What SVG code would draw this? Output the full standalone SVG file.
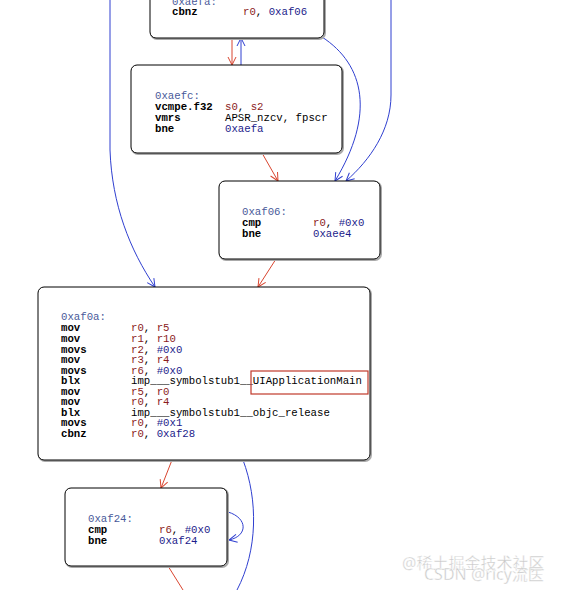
<svg xmlns="http://www.w3.org/2000/svg" width="580" height="590" viewBox="0 0 580 590">
<style>
.box{fill:#fff;stroke:#000;stroke-width:1}
.sh{fill:none;stroke:#aaa;stroke-width:2}
text{font-family:"Liberation Mono","Courier New",monospace;font-size:10.7px}
.lb{fill:#4a5a9a}
.mn{fill:#000;font-weight:bold}
.op{fill:#000}
.r{fill:#8b1c1c}
.n{fill:#1c1c8b}
.er{fill:none;stroke:#d9452f;stroke-width:1}
.eb{fill:none;stroke:#2f3fd0;stroke-width:1}
.wm{font-family:"Noto Sans","Noto Sans CJK SC",sans-serif;fill:#c8c8c8;stroke:#fff;stroke-width:0.4}
</style>
<defs>
<marker id="ar" markerWidth="10" markerHeight="10" refX="9" refY="5" orient="auto" markerUnits="userSpaceOnUse"><path d="M1,1 L9,5 L1,9" fill="none" stroke="#d9452f" stroke-width="1"/></marker>
<marker id="ab" markerWidth="10" markerHeight="10" refX="9" refY="5" orient="auto" markerUnits="userSpaceOnUse"><path d="M1,1 L9,5 L1,9" fill="none" stroke="#2f3fd0" stroke-width="1"/></marker>
</defs>
<rect width="580" height="590" fill="#fff"/>
<g id="connectors">
<path class="er" d="M232,38 L232,65" marker-end="url(#ar)"/>
<path class="eb" d="M241,65 L241,38" marker-end="url(#ab)"/>
<path class="eb" d="M322,37 C365,65 375,115 335,181" marker-end="url(#ab)"/>
<path class="eb" d="M391,0 L391,95 C391,130 370,160 346,181" marker-end="url(#ab)"/>
<path class="eb" d="M110,0 L110,150 C112,205 130,250 155,287" marker-end="url(#ab)"/>
<path class="er" d="M262,153 L278,181" marker-end="url(#ar)"/>
<path class="er" d="M276,259 L258,287" marker-end="url(#ar)"/>
<path class="er" d="M172,460 L161,488" marker-end="url(#ar)"/>
<path class="eb" d="M243,460 C258,500 258,550 237,590"/>
<path class="eb" d="M228,512 C248,518 248,536 229,540" marker-end="url(#ab)"/>
<path class="er" d="M168,566 L183,590"/>
</g>
<g id="n_aefa">
<rect class="sh" x="151" y="-10" width="174" height="49" rx="6"/>
<rect class="box" x="150" y="-10" width="174" height="48" rx="6"/>
<text x="172" y="5" class="lb">0xaefa:</text>
<text x="172" y="15"><tspan class="mn">cbnz</tspan><tspan x="243" class="r">r0</tspan><tspan class="op">, </tspan><tspan class="n">0xaf06</tspan></text>
</g>
<g id="n_aefc">
<rect class="sh" x="132" y="66" width="211" height="88" rx="6"/>
<rect class="box" x="131" y="65" width="211" height="88" rx="6"/>
<text x="155" y="99" class="lb">0xaefc:</text>
<text x="155" y="110"><tspan class="mn">vcmpe.f32</tspan><tspan x="225" class="r">s0</tspan><tspan class="op">, </tspan><tspan class="r">s2</tspan></text>
<text x="155" y="121"><tspan class="mn">vmrs</tspan><tspan x="225" class="op">APSR_nzcv, fpscr</tspan></text>
<text x="155" y="132"><tspan class="mn">bne</tspan><tspan x="225" class="n">0xaefa</tspan></text>
</g>
<g id="n_af06">
<rect class="sh" x="220" y="182" width="161" height="78" rx="6"/>
<rect class="box" x="219" y="181" width="161" height="78" rx="6"/>
<text x="242" y="215" class="lb">0xaf06:</text>
<text x="242" y="226"><tspan class="mn">cmp</tspan><tspan x="313" class="r">r0</tspan><tspan class="op">, </tspan><tspan class="n">#0x0</tspan></text>
<text x="242" y="237"><tspan class="mn">bne</tspan><tspan x="313" class="n">0xaee4</tspan></text>
</g>
<g id="n_af0a">
<rect class="sh" x="39" y="288" width="332" height="173" rx="6"/>
<rect class="box" x="38" y="287" width="332" height="173" rx="6"/>
<text x="61" y="320" class="lb">0xaf0a:</text>
<text x="61" y="331"><tspan class="mn">mov</tspan><tspan x="131" class="r">r0</tspan><tspan class="op">, </tspan><tspan class="r">r5</tspan></text>
<text x="61" y="342"><tspan class="mn">mov</tspan><tspan x="131" class="r">r1</tspan><tspan class="op">, </tspan><tspan class="r">r10</tspan></text>
<text x="61" y="352.5"><tspan class="mn">movs</tspan><tspan x="131" class="r">r2</tspan><tspan class="op">, </tspan><tspan class="n">#0x0</tspan></text>
<text x="61" y="363"><tspan class="mn">mov</tspan><tspan x="131" class="r">r3</tspan><tspan class="op">, </tspan><tspan class="r">r4</tspan></text>
<text x="61" y="373.5"><tspan class="mn">movs</tspan><tspan x="131" class="r">r6</tspan><tspan class="op">, </tspan><tspan class="n">#0x0</tspan></text>
<text x="61" y="384"><tspan class="mn">blx</tspan><tspan x="131" class="op">imp___symbolstub1__UIApplicationMain</tspan></text>
<text x="61" y="394.5"><tspan class="mn">mov</tspan><tspan x="131" class="r">r5</tspan><tspan class="op">, </tspan><tspan class="r">r0</tspan></text>
<text x="61" y="405"><tspan class="mn">mov</tspan><tspan x="131" class="r">r0</tspan><tspan class="op">, </tspan><tspan class="r">r4</tspan></text>
<text x="61" y="415.5"><tspan class="mn">blx</tspan><tspan x="131" class="op">imp___symbolstub1__objc_release</tspan></text>
<text x="61" y="426"><tspan class="mn">movs</tspan><tspan x="131" class="r">r0</tspan><tspan class="op">, </tspan><tspan class="n">#0x1</tspan></text>
<text x="61" y="436.5"><tspan class="mn">cbnz</tspan><tspan x="131" class="r">r0</tspan><tspan class="op">, </tspan><tspan class="n">0xaf28</tspan></text>
<rect x="251" y="371" width="117" height="23" fill="none" stroke="#c0392b" stroke-width="1.2"/>
</g>
<g id="n_af24">
<rect class="sh" x="66" y="489" width="162" height="78" rx="6"/>
<rect class="box" x="65" y="488" width="162" height="78" rx="6"/>
<text x="88" y="522" class="lb">0xaf24:</text>
<text x="88" y="533"><tspan class="mn">cmp</tspan><tspan x="159" class="r">r6</tspan><tspan class="op">, </tspan><tspan class="n">#0x0</tspan></text>
<text x="88" y="544"><tspan class="mn">bne</tspan><tspan x="159" class="n">0xaf24</tspan></text>
</g>
<g id="watermark">
<text x="402" y="569" class="wm" style="font-size:16px">@稀土掘金技术社区</text>
<text x="424" y="580" class="wm" style="font-size:16px">CSDN @ricy流医</text>
</g>
</svg>
